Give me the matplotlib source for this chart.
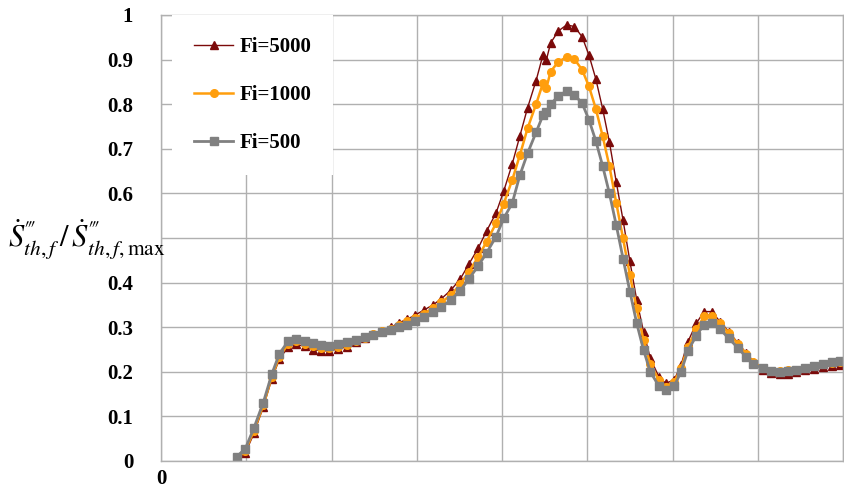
import matplotlib
matplotlib.use("Agg")
import matplotlib.pyplot as plt

# x positions (axis units, one grid division = 1) shared by all three curves
x = [0.89, 0.99, 1.09, 1.20, 1.30, 1.39, 1.49, 1.58, 1.69, 1.78,
     1.88, 1.97, 2.08, 2.18, 2.29, 2.39, 2.49, 2.59, 2.70, 2.79,
     2.89, 2.98, 3.08, 3.19, 3.29, 3.40, 3.51, 3.61, 3.72, 3.82,
     3.93, 4.02, 4.12, 4.21, 4.30, 4.40, 4.48, 4.52, 4.57, 4.66,
     4.76, 4.85, 4.94, 5.02, 5.10, 5.18, 5.26, 5.34, 5.42, 5.50,
     5.58, 5.66, 5.74, 5.84, 5.92, 6.02, 6.10, 6.18, 6.28, 6.37,
     6.46, 6.56, 6.66, 6.77, 6.86, 6.95, 7.06, 7.16, 7.26, 7.35,
     7.45, 7.56, 7.66, 7.76, 7.87, 7.97]

fi5000 = [0.000, 0.018, 0.062, 0.121, 0.184, 0.229, 0.255, 0.262, 0.257, 0.250,
          0.247, 0.247, 0.251, 0.256, 0.267, 0.275, 0.284, 0.292, 0.300, 0.310,
          0.318, 0.327, 0.338, 0.350, 0.364, 0.383, 0.408, 0.441, 0.477, 0.516,
          0.556, 0.605, 0.666, 0.729, 0.792, 0.853, 0.910, 0.899, 0.937, 0.964,
          0.978, 0.974, 0.951, 0.910, 0.857, 0.790, 0.715, 0.626, 0.540, 0.448,
          0.361, 0.290, 0.230, 0.189, 0.174, 0.182, 0.215, 0.267, 0.309, 0.335,
          0.335, 0.312, 0.290, 0.264, 0.243, 0.223, 0.205, 0.198, 0.196, 0.196,
          0.199, 0.203, 0.207, 0.211, 0.213, 0.215]

fi1000 = [0.005, 0.023, 0.068, 0.125, 0.189, 0.234, 0.262, 0.268, 0.263, 0.257,
          0.253, 0.253, 0.256, 0.261, 0.269, 0.276, 0.284, 0.291, 0.297, 0.306,
          0.313, 0.320, 0.330, 0.343, 0.356, 0.372, 0.396, 0.424, 0.457, 0.492,
          0.533, 0.577, 0.630, 0.686, 0.746, 0.800, 0.847, 0.836, 0.873, 0.895,
          0.906, 0.901, 0.877, 0.840, 0.790, 0.729, 0.661, 0.579, 0.499, 0.417,
          0.342, 0.271, 0.217, 0.182, 0.167, 0.178, 0.208, 0.256, 0.295, 0.324,
          0.325, 0.309, 0.286, 0.262, 0.241, 0.221, 0.208, 0.202, 0.201, 0.204,
          0.205, 0.209, 0.214, 0.217, 0.220, 0.223]

fi500 = [0.010, 0.028, 0.074, 0.131, 0.195, 0.241, 0.268, 0.274, 0.269, 0.264,
         0.259, 0.258, 0.262, 0.266, 0.271, 0.277, 0.283, 0.289, 0.294, 0.301,
         0.306, 0.313, 0.322, 0.333, 0.345, 0.361, 0.382, 0.408, 0.437, 0.467,
         0.503, 0.544, 0.578, 0.641, 0.690, 0.737, 0.775, 0.783, 0.800, 0.818,
         0.830, 0.821, 0.802, 0.765, 0.718, 0.662, 0.600, 0.529, 0.454, 0.380,
         0.309, 0.249, 0.200, 0.168, 0.159, 0.168, 0.200, 0.247, 0.281, 0.306,
         0.309, 0.295, 0.275, 0.253, 0.234, 0.217, 0.208, 0.202, 0.200, 0.202,
         0.204, 0.208, 0.213, 0.217, 0.221, 0.224]

labels = ["Fi=5000", "Fi=1000", "Fi=500"]
# the 0.5 label is hidden behind the axis title in the original
ytick_labels = ["0", "0.1", "0.2", "0.3", "0.4", "", "0.6", "0.7", "0.8", "0.9", "1"]

plt.rcParams['font.family'] = ['Liberation Serif', 'DejaVu Serif']
plt.rcParams['mathtext.fontset'] = 'stix'

fig = plt.figure(figsize=(8.45, 4.92), dpi=100)
ax = fig.add_axes([161/845, 31/492, 682/845, 446/492])

ax.plot(x, fi5000, color='#7B0A0A', lw=1.0, marker='^', ms=6, label=labels[0])
ax.plot(x, fi1000, color='#FF9E0D', lw=1.8, marker='o', ms=5.5, label=labels[1])
ax.plot(x, fi500, color='#808080', lw=2.0, marker='s', ms=5.5, label=labels[2])

ax.set_xlim(0, 8)
ax.set_ylim(0, 1)
ax.set_xticks(range(9))
ax.set_xticklabels(["0"] + [""] * 8)
ax.set_yticks([i / 10 for i in range(11)])
ax.set_yticklabels(ytick_labels)
ax.tick_params(length=0, labelsize=15, pad=20)
ax.tick_params(axis='x', pad=6)
for t in ax.get_xticklabels() + ax.get_yticklabels():
    t.set_fontweight('bold')

ax.grid(True, color='#B0B0B0', lw=1.0)
for s in ax.spines.values():
    s.set_color('#B0B0B0')
    s.set_linewidth(1.0)

leg = ax.legend(loc='upper left', bbox_to_anchor=(0.016, 1.0), frameon=True,
                fancybox=False, framealpha=1, edgecolor='none', facecolor='white',
                prop={'weight': 'bold', 'size': 15}, labelspacing=1.35,
                handlelength=1.9, handletextpad=0.3, borderpad=1.05,
                borderaxespad=0)

fig.text(8/845, 1 - 240/492,
         '$\\dot{S}^{\u2034}_{th,f}\\,/\\,\\dot{S}^{\u2034}_{th,f,\\mathrm{max}}$',
         fontsize=22, ha='left', va='center')

fig.savefig("out.png", dpi=100)
